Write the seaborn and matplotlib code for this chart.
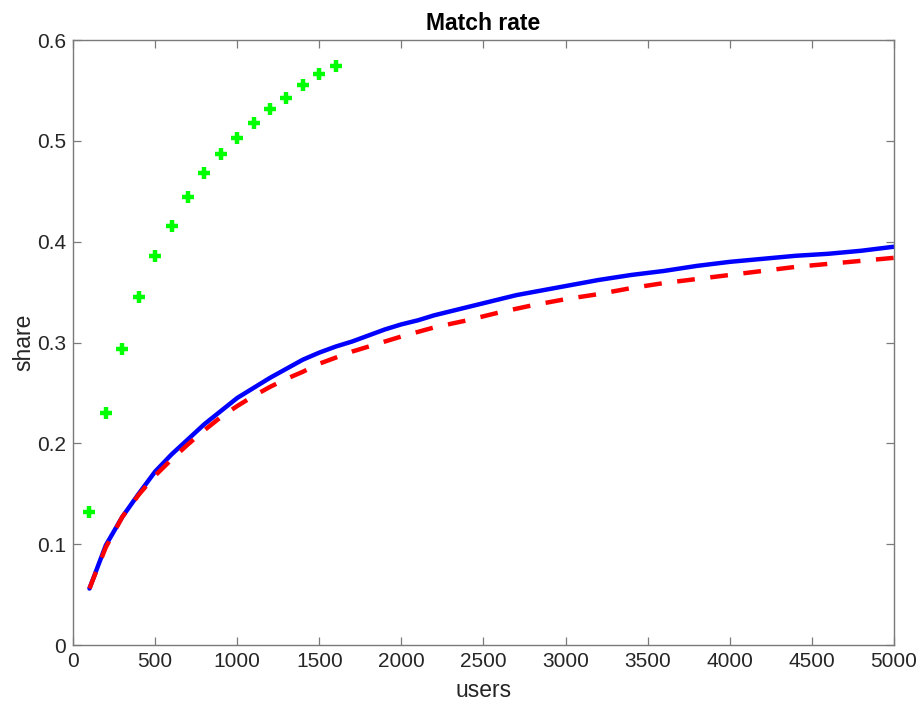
import matplotlib
matplotlib.use("Agg")
import matplotlib.pyplot as plt
import seaborn as sns
import numpy as np

# ---- data ----
green_x = [100, 200, 300, 400, 500, 600, 700, 800, 900, 1000,
           1100, 1200, 1300, 1400, 1500, 1600]
green_y = [0.132, 0.230, 0.294, 0.345, 0.386, 0.416, 0.444, 0.468, 0.487, 0.503,
           0.518, 0.532, 0.543, 0.555, 0.566, 0.574]

blue_x = [100, 200, 300, 400, 500, 600, 700, 800, 900, 1000,
          1100, 1200, 1300, 1400, 1500, 1600, 1700, 1800, 1900, 2000,
          2100, 2200, 2300, 2400, 2500, 2600, 2700, 2800, 2900, 3000,
          3200, 3400, 3600, 3800, 4000, 4200, 4400, 4600, 4800, 5000]
blue_y = [0.056, 0.099, 0.127, 0.150, 0.172, 0.189, 0.204, 0.219, 0.232, 0.245,
          0.255, 0.265, 0.274, 0.283, 0.290, 0.296, 0.301, 0.307, 0.313, 0.318,
          0.322, 0.327, 0.331, 0.335, 0.339, 0.343, 0.347, 0.350, 0.353, 0.356,
          0.362, 0.367, 0.371, 0.376, 0.380, 0.383, 0.386, 0.388, 0.391, 0.395]

red_x = [100, 200, 300, 400, 500, 600, 700, 800, 900, 1000,
         1100, 1200, 1300, 1400, 1500, 1600, 1700, 1800, 1900, 2000,
         2200, 2400, 2600, 2800, 3000, 3200, 3400, 3600, 3800, 4000,
         4200, 4400, 4600, 4800, 5000]
red_y = [0.056, 0.097, 0.127, 0.149, 0.168, 0.184, 0.199, 0.213, 0.226, 0.237,
         0.247, 0.256, 0.264, 0.271, 0.279, 0.285, 0.291, 0.296, 0.301, 0.306,
         0.315, 0.322, 0.330, 0.337, 0.343, 0.348, 0.354, 0.359, 0.363, 0.367,
         0.371, 0.375, 0.378, 0.381, 0.384]

x_ticks = [0, 500, 1000, 1500, 2000, 2500, 3000, 3500, 4000, 4500, 5000]
y_ticks = [0, 0.1, 0.2, 0.3, 0.4, 0.5, 0.6]
y_tick_labels = ["0", "0.1", "0.2", "0.3", "0.4", "0.5", "0.6"]

# ---- style ----
sns.set_theme(style="white")
plt.rcParams["font.family"] = ["Liberation Sans", "DejaVu Sans"]

fig = plt.figure(figsize=(9.22, 7.06), dpi=100)
ax = fig.add_axes([0.0792, 0.0864, 0.8904, 0.8569])

sns.lineplot(x=blue_x, y=blue_y, ax=ax, color=(0, 0, 1), linewidth=3.2,
             sort=False, estimator=None)
sns.lineplot(x=red_x, y=red_y, ax=ax, color=(1, 0, 0), linewidth=3.2,
             linestyle=(0, (4.0, 3.5)), sort=False, estimator=None)
sns.scatterplot(x=green_x, y=green_y, ax=ax, marker="+", s=70,
                linewidth=3.2, color=(0, 1, 0), zorder=5)

ax.set_xlim(0, 5000)
ax.set_ylim(0, 0.6)
ax.set_xticks(x_ticks)
ax.set_xticklabels([str(t) for t in x_ticks])
ax.set_yticks(y_ticks)
ax.set_yticklabels(y_tick_labels)

axis_gray = "#7a7a7a"
text_gray = "#262626"
for s in ax.spines.values():
    s.set_visible(True)
    s.set_color(axis_gray)
    s.set_linewidth(1.0)

ax.tick_params(axis="both", which="both", direction="in", length=6, width=0.9,
               color=axis_gray, labelcolor=text_gray, labelsize=15,
               top=True, right=True, bottom=True, left=True, pad=5)

ax.set_xlabel("users", fontsize=16.5, color=text_gray, labelpad=6)
ax.set_ylabel("share", fontsize=16.5, color=text_gray, labelpad=1)
ax.set_title("Match rate", fontsize=16.5, fontweight="bold", color="black", pad=7)

ax.grid(False)
fig.savefig("out.png", dpi=100, facecolor="white")
